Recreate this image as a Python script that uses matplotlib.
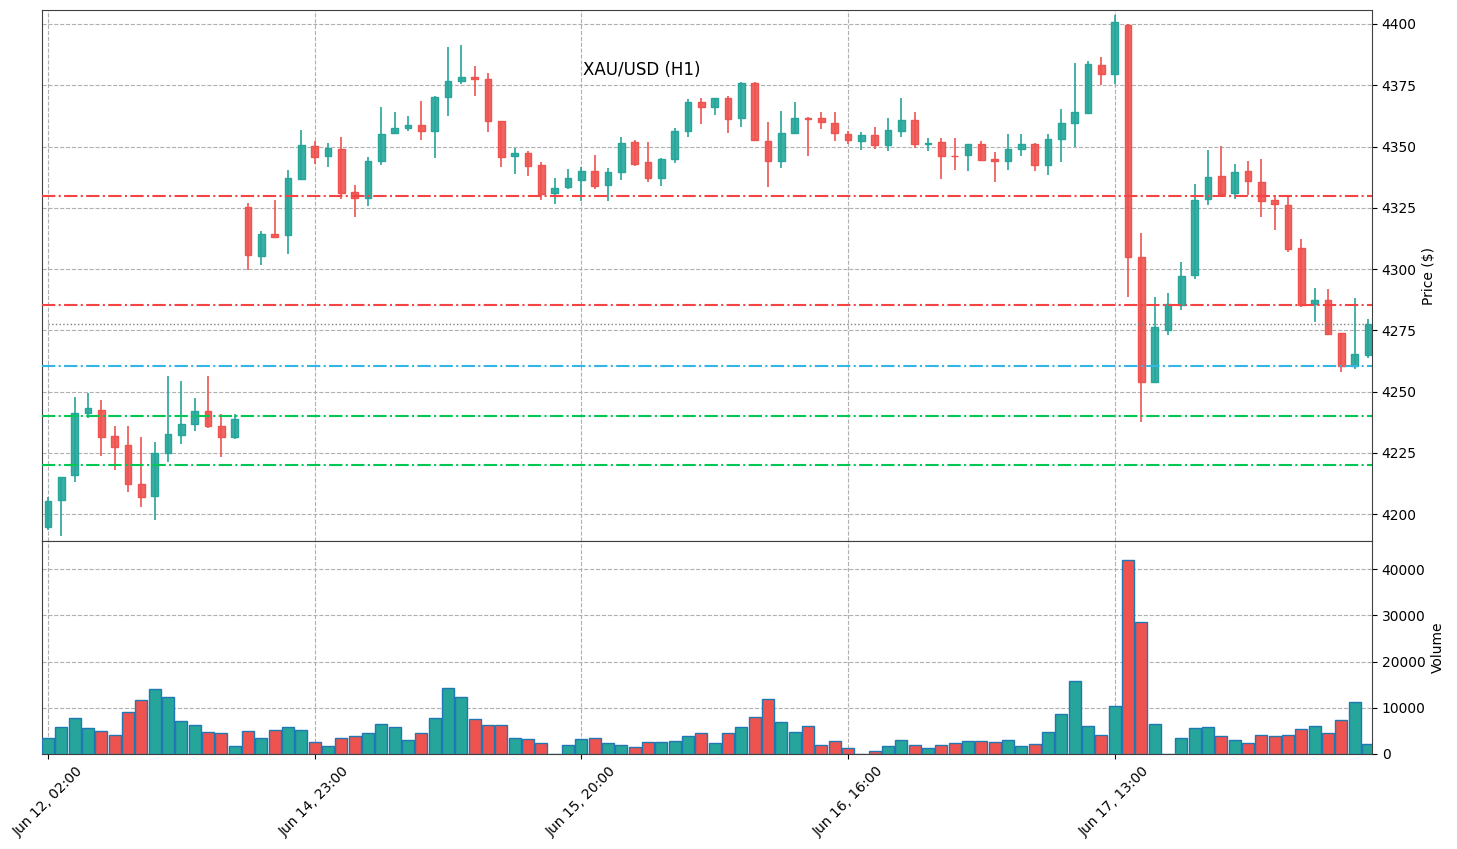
import numpy as np
import matplotlib.pyplot as plt
from matplotlib.colors import to_rgba

# hourly XAU/USD candles
opens = [4194.8, 4205.7, 4216.0, 4241.5, 4242.7, 4232.1, 4228.2, 4212.3, 4207.4, 4224.9,
         4232.3, 4236.7, 4242.3, 4236.2, 4231.7, 4325.4, 4305.3, 4314.5, 4313.9, 4336.7,
         4350.3, 4346.1, 4349.0, 4331.5, 4329.1, 4344.1, 4355.4, 4357.5, 4358.8, 4356.3,
         4370.1, 4376.6, 4378.3, 4377.6, 4360.5, 4346.1, 4347.5, 4342.5, 4331.1, 4333.3,
         4336.3, 4340.1, 4334.3, 4339.6, 4351.9, 4343.5, 4337.2, 4344.9, 4356.3, 4368.2,
         4366.0, 4369.9, 4361.6, 4375.9, 4352.3, 4344.1, 4355.4, 4361.5, 4361.6, 4359.7,
         4355.1, 4352.2, 4354.7, 4350.6, 4356.3, 4360.9, 4351.2, 4351.9, 4346.3, 4346.5,
         4351.2, 4344.8, 4344.1, 4348.9, 4351.2, 4342.4, 4353.0, 4359.5, 4363.6, 4383.3,
         4379.5, 4399.6, 4305.0, 4254.1, 4275.0, 4285.3, 4297.7, 4328.7, 4338.1, 4331.2,
         4340.1, 4335.6, 4328.4, 4326.3, 4308.7, 4285.8, 4287.6, 4274.0, 4260.6, 4265.1]
highs = [4207.0, 4215.3, 4247.7, 4249.5, 4246.7, 4236.1, 4236.1, 4231.4, 4229.3, 4256.6,
         4254.2, 4247.3, 4256.2, 4240.8, 4240.8, 4327.1, 4315.4, 4328.1, 4340.6, 4356.8,
         4352.2, 4351.4, 4354.0, 4334.5, 4345.8, 4366.2, 4364.2, 4362.5, 4368.4, 4370.8,
         4390.7, 4391.4, 4382.9, 4380.0, 4360.5, 4349.5, 4348.2, 4343.8, 4337.3, 4341.0,
         4341.5, 4346.6, 4341.4, 4354.0, 4352.7, 4351.9, 4345.5, 4357.4, 4369.4, 4369.9,
         4369.9, 4370.7, 4376.4, 4376.4, 4360.1, 4364.6, 4368.2, 4362.1, 4364.2, 4364.2,
         4356.5, 4356.0, 4358.0, 4361.6, 4369.9, 4364.2, 4353.6, 4353.6, 4353.6, 4351.2,
         4352.3, 4347.6, 4355.3, 4355.3, 4351.6, 4355.3, 4365.2, 4384.1, 4385.1, 4386.6,
         4403.8, 4399.8, 4314.9, 4288.7, 4290.3, 4303.0, 4334.7, 4348.6, 4350.3, 4343.0,
         4344.2, 4344.9, 4330.2, 4329.5, 4312.2, 4292.3, 4292.0, 4274.0, 4288.2, 4279.7]
lows = [4193.6, 4191.1, 4213.0, 4239.3, 4223.6, 4218.0, 4209.2, 4202.8, 4197.6, 4221.2,
        4228.6, 4234.0, 4235.1, 4223.2, 4230.6, 4299.8, 4301.5, 4312.5, 4306.2, 4336.5,
        4342.7, 4341.8, 4328.5, 4321.4, 4325.7, 4342.5, 4355.0, 4356.4, 4352.7, 4345.4,
        4362.5, 4375.5, 4370.8, 4356.0, 4341.7, 4338.9, 4338.0, 4328.4, 4326.7, 4332.6,
        4327.7, 4332.6, 4327.8, 4336.4, 4342.0, 4335.6, 4334.0, 4343.4, 4354.0, 4359.2,
        4363.0, 4355.6, 4358.1, 4352.2, 4333.5, 4341.4, 4355.0, 4346.2, 4357.1, 4352.3,
        4351.2, 4348.6, 4348.9, 4348.3, 4354.0, 4349.5, 4348.3, 4336.9, 4340.4, 4340.1,
        4344.1, 4335.5, 4340.4, 4346.2, 4340.1, 4338.6, 4343.7, 4349.8, 4363.2, 4375.1,
        4375.4, 4288.5, 4237.5, 4253.4, 4273.3, 4283.2, 4296.0, 4326.3, 4330.2, 4328.8,
        4330.2, 4321.3, 4315.9, 4307.1, 4284.6, 4278.6, 4273.3, 4258.0, 4259.2, 4263.7]
closes = [4205.4, 4215.1, 4241.2, 4243.2, 4231.7, 4227.6, 4212.3, 4206.9, 4224.9, 4232.6,
          4236.7, 4242.0, 4236.2, 4231.7, 4238.8, 4305.7, 4314.5, 4313.1, 4337.3, 4350.7,
          4345.6, 4349.6, 4331.1, 4329.1, 4344.2, 4355.3, 4357.7, 4358.8, 4356.3, 4370.3,
          4376.8, 4378.3, 4377.5, 4360.4, 4345.6, 4347.2, 4342.0, 4330.5, 4333.2, 4337.3,
          4340.1, 4333.9, 4339.7, 4351.5, 4343.0, 4337.2, 4344.9, 4356.4, 4368.2, 4366.0,
          4369.9, 4361.2, 4375.9, 4352.6, 4344.1, 4355.6, 4361.6, 4361.3, 4359.9, 4355.4,
          4352.6, 4354.7, 4350.6, 4356.8, 4360.9, 4351.0, 4351.4, 4346.1, 4346.1, 4351.2,
          4344.5, 4344.3, 4349.2, 4351.2, 4342.4, 4353.1, 4359.7, 4364.2, 4383.7, 4379.5,
          4400.8, 4305.0, 4254.1, 4276.2, 4285.9, 4297.4, 4328.0, 4337.7, 4330.6, 4339.7,
          4335.9, 4327.8, 4326.5, 4308.3, 4285.3, 4287.6, 4273.6, 4260.6, 4265.3, 4277.8]
volumes = [3390, 5780, 7730, 5560, 4910, 4040, 9030, 11620, 14010, 12270,
           7080, 6210, 4690, 4480, 1660, 4910, 3390, 5130, 5780, 5130,
           2530, 1660, 3390, 3830, 4480, 6430, 5780, 2960, 4480, 7730,
           14220, 12270, 7510, 6210, 6210, 3390, 3180, 2310, 0, 1880,
           3180, 3390, 2310, 1880, 1440, 2530, 2530, 2740, 3830, 4480,
           2310, 4480, 5780, 7940, 11840, 6860, 4690, 5990, 1880, 2740,
           1230, 0, 580, 1660, 2960, 1880, 1230, 1880, 2310, 2740,
           2740, 2530, 2960, 1660, 2090, 4690, 8590, 15740, 5990, 4040,
           10320, 41950, 28520, 6430, 0, 3390, 5560, 5780, 3830, 2960,
           2310, 4040, 3830, 4040, 5340, 5990, 4480, 7290, 11190, 2090]

tick_pos = [0, 20, 40, 60, 80]
tick_labels = ["Jun 12, 02:00", "Jun 14, 23:00", "Jun 15, 20:00",
               "Jun 16, 16:00", "Jun 17, 13:00"]

resistance_levels = [4330.0, 4285.5]
pivot_levels = [4260.5]
support_levels = [4240.0, 4220.0]

up_color = "#26a69a"
down_color = "#ef5350"

o = np.array(opens)
h = np.array(highs)
l = np.array(lows)
c = np.array(closes)
x = np.arange(len(o))
colors = np.where(c >= o, up_color, down_color)

fig = plt.figure(figsize=(14.57, 8.49), dpi=100)
ax = fig.add_axes([0.0288, 0.3628, 0.9129, 0.6254])
ax_vol = fig.add_axes([0.0288, 0.1119, 0.9129, 0.2509], sharex=ax)

# candles
ax.vlines(x, l, h, colors=colors, linewidth=1.2, zorder=2)
ax.bar(x, c - o, bottom=o, width=0.5,
       color=[to_rgba(col, 0.9) for col in colors],
       edgecolor=colors, linewidth=1, zorder=3)

# levels
for y in resistance_levels:
    ax.axhline(y, color="#f44444", linestyle="-.", linewidth=1.5, zorder=4)
for y in pivot_levels:
    ax.axhline(y, color="#33b5e5", linestyle="-.", linewidth=1.5, zorder=4)
for y in support_levels:
    ax.axhline(y, color="#00c853", linestyle="-.", linewidth=1.5, zorder=4)
ax.hlines(closes[-1], 0, len(closes) - 1, colors="gray", linestyles=":",
          linewidth=1, zorder=4)

ax.set_ylim(4189.1, 4405.7)
ax.set_xlim(-0.45, 99.3)
ax.yaxis.tick_right()
ax.yaxis.set_label_position("right")
ax.set_ylabel("Price ($)")
ax.tick_params(bottom=False, labelbottom=False)
ax.grid(True, linestyle="--", color="#b0b0b0", linewidth=0.8, zorder=0)
ax.set_axisbelow(True)

fig.text(0.4001, 0.9175, "XAU/USD (H1)", fontsize=12, ha="left", va="center")

# volume
ax_vol.bar(x, volumes, width=0.9, color=colors, edgecolor="#1f77b4",
           linewidth=1, zorder=3)
ax_vol.set_ylim(0, 46100)
ax_vol.yaxis.tick_right()
ax_vol.yaxis.set_label_position("right")
ax_vol.set_ylabel("Volume")
ax_vol.set_xticks(tick_pos)
ax_vol.set_xticklabels(tick_labels, rotation=45)
ax_vol.grid(True, linestyle="--", color="#b0b0b0", linewidth=0.8, zorder=0)
ax_vol.set_axisbelow(True)

for a in (ax, ax_vol):
    for sp in a.spines.values():
        sp.set_color("#404040")

fig.savefig("out.png", dpi=100)
